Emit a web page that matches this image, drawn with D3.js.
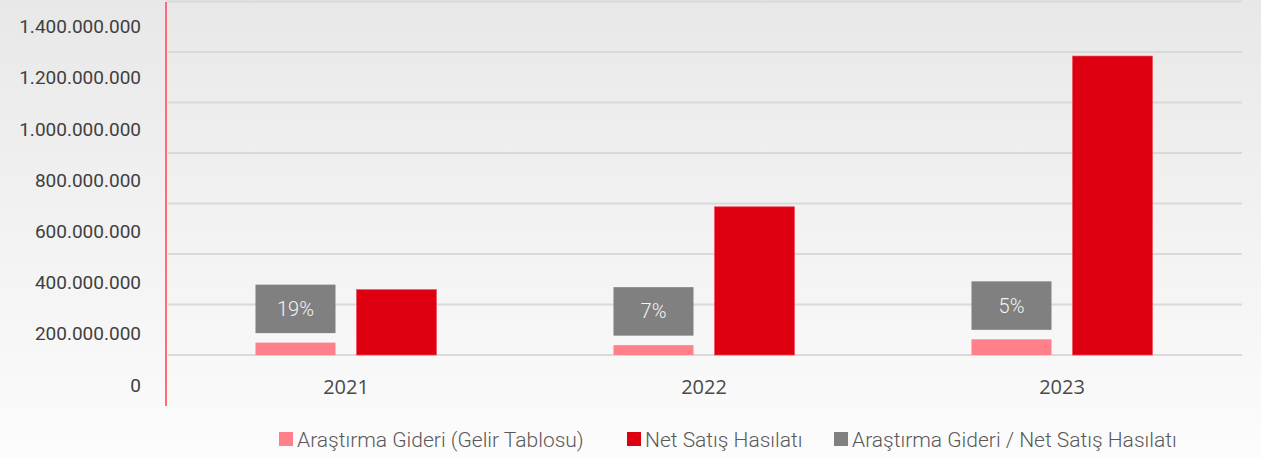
<!DOCTYPE html>
<html>
<head>
  <meta charset="utf-8">
  <script src="https://cdn.jsdelivr.net/npm/d3@7"></script>
  <style>
    html, body { margin: 0; padding: 0; }
    body { width: 1261px; height: 458px; overflow: hidden; }
    .tick_label { font-family: Roboto, sans-serif; font-size: 19px; fill: #404040; }
    .year_label { font-family: "Open Sans", sans-serif; font-weight: 500; font-size: 20px; fill: #4a4a4a; }
    .box_label { font-family: Roboto, sans-serif; font-weight: 300; font-size: 20px; fill: #f4f4f4; }
    .legend_text { font-family: Roboto, sans-serif; font-weight: 300; font-size: 21px; fill: #595959; }
  </style>
</head>
<body>
  <script type="text/javascript">
    // chart values
    var years = ["2021", "2022", "2023"];
    var researchCost = [49000000, 39000000, 62000000];      // Araştırma Gideri (Gelir Tablosu)
    var netSales = [259000000, 587000000, 1184000000];       // Net Satış Hasılatı
    var ratioLabels = ["19%", "7%", "5%"];                   // Araştırma Gideri / Net Satış Hasılatı
    var yTicks = [0, 200000000, 400000000, 600000000, 800000000, 1000000000, 1200000000, 1400000000];
    var seriesNames = ["Araştırma Gideri (Gelir Tablosu)", "Net Satış Hasılatı", "Araştırma Gideri / Net Satış Hasılatı"];
    var seriesColors = ["#ff808a", "#de0011", "#808080"];

    function draw() {
      "use strict";
      var width = 1261, height = 458;
      var left = 167, right = 1241, top = 1.5, bottom = 355;

      var svg = d3.select("body")
        .append("svg")
        .attr("width", width)
        .attr("height", height);

      // background fade, grey at the top to near white
      var grad = svg.append("defs").append("linearGradient")
        .attr("id", "bg").attr("x1", 0).attr("y1", 0).attr("x2", 0).attr("y2", 1);
      grad.append("stop").attr("offset", "0%").attr("stop-color", "#e8e8e8");
      grad.append("stop").attr("offset", "100%").attr("stop-color", "#fcfcfc");
      svg.append("rect").attr("width", width).attr("height", height).attr("fill", "url(#bg)");

      // scales
      var x = d3.scaleBand().domain(years).range([left, right]).padding(0);
      var x1 = d3.scaleBand().domain([0, 1]).range([0, x.bandwidth()])
        .paddingInner(0.208).paddingOuter(0.876);
      var y = d3.scaleLinear().domain([0, 1400000000]).range([bottom, top]);
      // tick labels sit a bit below their grid lines in the original
      var yLabel = d3.scaleLinear().domain([0, 1400000000]).range([385, 26.5]);

      var fmt = d3.formatLocale({ decimal: ",", thousands: ".", grouping: [3], currency: ["", ""] }).format(",.0f");

      // grid lines
      svg.append("g")
        .selectAll("line")
        .data(yTicks)
        .enter()
        .append("line")
        .attr("x1", left + 1).attr("x2", right + 1)
        .attr("y1", function (d) { return y(d); })
        .attr("y2", function (d) { return y(d); })
        .attr("stroke", "#d9d9d9")
        .attr("stroke-width", 2);

      // y axis labels
      var yAxis = d3.axisLeft(yLabel).tickValues(yTicks).tickFormat(fmt).tickSize(0).tickPadding(0);
      var ga = svg.append("g").attr("transform", "translate(141,0)").call(yAxis);
      ga.select(".domain").remove();
      ga.selectAll("text").attr("class", "tick_label").attr("fill", null).attr("font-size", null).attr("font-family", null);

      // red axis line
      svg.append("line")
        .attr("x1", 166).attr("x2", 166)
        .attr("y1", 2).attr("y2", 406)
        .attr("stroke", "#ff6b78")
        .attr("stroke-width", 2);

      // bars
      var groups = svg.selectAll("g.year")
        .data(years)
        .enter()
        .append("g")
        .attr("class", "year")
        .attr("transform", function (d) { return "translate(" + x(d) + ",0)"; });

      groups.append("rect")
        .attr("x", x1(0))
        .attr("width", x1.bandwidth())
        .attr("y", function (d, i) { return y(researchCost[i]); })
        .attr("height", function (d, i) { return bottom - y(researchCost[i]); })
        .attr("fill", seriesColors[0]);

      groups.append("rect")
        .attr("x", x1(1))
        .attr("width", x1.bandwidth())
        .attr("y", function (d, i) { return y(netSales[i]); })
        .attr("height", function (d, i) { return bottom - y(netSales[i]); })
        .attr("fill", seriesColors[1])
        .attr("stroke", "#f04a58")
        .attr("stroke-width", 0.6);

      // ratio labels as grey boxes above the research bars
      var boxH = 48.5;
      groups.append("rect")
        .attr("x", x1(0))
        .attr("width", x1.bandwidth())
        .attr("y", function (d, i) { return y(researchCost[i]) - 9.5 - boxH; })
        .attr("height", boxH)
        .attr("fill", seriesColors[2]);

      groups.append("text")
        .attr("class", "box_label")
        .attr("x", x1(0) + x1.bandwidth() / 2)
        .attr("y", function (d, i) { return y(researchCost[i]) - 9.5 - boxH / 2; })
        .attr("text-anchor", "middle")
        .attr("dominant-baseline", "central")
        .text(function (d, i) { return ratioLabels[i]; });

      // year labels
      groups.append("text")
        .attr("class", "year_label")
        .attr("x", x.bandwidth() / 2)
        .attr("y", 386)
        .attr("text-anchor", "middle")
        .attr("dominant-baseline", "central")
        .text(function (d) { return d; });

      // legend
      var legendX = [279, 627, 834];
      var legend = svg.selectAll("g.legend")
        .data(seriesNames)
        .enter()
        .append("g")
        .attr("class", "legend")
        .attr("transform", function (d, i) { return "translate(" + legendX[i] + ",432)"; });
      legend.append("rect")
        .attr("width", 14).attr("height", 14)
        .attr("fill", function (d, i) { return seriesColors[i]; });
      legend.append("text")
        .attr("class", "legend_text")
        .attr("x", 18)
        .attr("y", 7.5)
        .attr("dominant-baseline", "central")
        .text(function (d) { return d; });
    }

    draw();
  </script>
</body>
</html>
